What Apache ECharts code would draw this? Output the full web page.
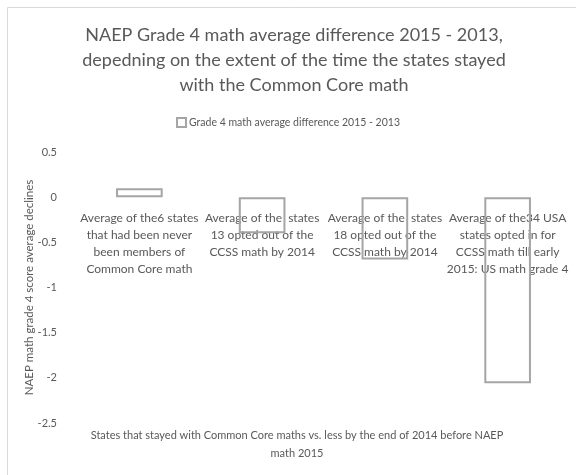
<!DOCTYPE html>
<html>
<head>
<meta charset="utf-8">
<script src="https://cdn.jsdelivr.net/npm/echarts@6/dist/echarts.min.js"></script>
<style>
html, body { margin: 0; padding: 0; background: #fff; }
#main { width: 576px; height: 475px; }
</style>
</head>
<body>
<div id="main"></div>
<script>
// data
var categories = [
	"Average of the6 states\nthat had been never\nbeen members of\nCommon Core math",
	"Average of the  states\n13 opted out of the\nCCSS math by 2014",
	"Average of the  states\n18 opted out of the\nCCSS math by 2014",
	"Average of the34 USA\nstates opted in for\nCCSS math till early\n2015: US math grade 4"
];
var diffValues = [0.1, -0.4, -0.69, -2.06];
var yMin = -2.5, yMax = 0.5, yStep = 0.5;
var seriesName = "Grade 4 math average difference 2015 - 2013";
var titleText = "NAEP Grade 4 math average difference 2015 - 2013,\ndepedning on the extent of the time the states stayed\nwith the Common Core math";
var xTitle = "States that stayed with Common Core maths vs. less by the end of 2014 before NAEP\nmath 2015";
var yTitle = "NAEP math grade 4 score average declines";

var txt = '#595959';
var font = 'Lato';
var gridTop = 152, gridBottom = 52, chartH = 475;
var gridH = chartH - gridTop - gridBottom;
// category labels sit under the zero line, like the spreadsheet chart
var zeroOffset = -gridH * (0 - yMin) / (yMax - yMin);

var myChart = echarts.init(document.getElementById('main'));
var option = {
	backgroundColor: '#fff',
	animation: false,
	textStyle: { fontFamily: font },
	title: [{
		text: titleText,
		left: 289,
		top: 18,
		textAlign: 'center',
		textStyle: { color: txt, fontSize: 18, fontWeight: 'normal', lineHeight: 25, fontFamily: font }
	}, {
		text: xTitle,
		left: 292,
		top: 421,
		textAlign: 'center',
		textStyle: { color: txt, fontSize: 11, fontWeight: 'normal', lineHeight: 18, fontFamily: font }
	}],
	legend: {
		top: 112,
		left: 'center',
		icon: 'rect',
		itemWidth: 9,
		itemHeight: 9,
		itemGap: 4,
		textStyle: { color: txt, fontSize: 10.5, fontFamily: font, padding: [0, 0, 0, -2] },
		data: [seriesName]
	},
	grid: { left: 78, right: 7, top: gridTop, bottom: gridBottom, containLabel: false, outerBoundsMode: 'none' },
	xAxis: {
		type: 'category',
		data: categories,
		position: 'bottom',
		offset: zeroOffset,
		axisLine: { show: false, onZero: false },
		axisTick: { show: false },
		splitLine: { show: false },
		axisLabel: { interval: 0, color: txt, fontSize: 12, lineHeight: 17, margin: 12, fontFamily: font, hideOverlap: false }
	},
	yAxis: {
		type: 'value',
		min: yMin,
		max: yMax,
		interval: yStep,
		name: yTitle,
		nameLocation: 'middle',
		nameGap: 43,
		nameMoveOverlap: false,
		nameTextStyle: { color: txt, fontSize: 11.5, fontFamily: font },
		axisLine: { show: false },
		axisTick: { show: false },
		splitLine: { show: false },
		axisLabel: { color: txt, fontSize: 11, margin: 21, fontFamily: font }
	},
	graphic: [{
		type: 'rect',
		shape: { x: 7.5, y: 7.5, width: 700, height: 700 },
		style: { fill: 'none', stroke: '#d9d9d9', lineWidth: 1 },
		silent: true,
		z: -1
	}],
	series: [{
		name: seriesName,
		type: 'bar',
		data: diffValues,
		barWidth: '38%',
		z: 3,
		itemStyle: { color: 'rgba(255,255,255,0)', borderColor: '#a5a5a5', borderWidth: 2 }
	}]
};
myChart.setOption(option);
</script>
</body>
</html>
